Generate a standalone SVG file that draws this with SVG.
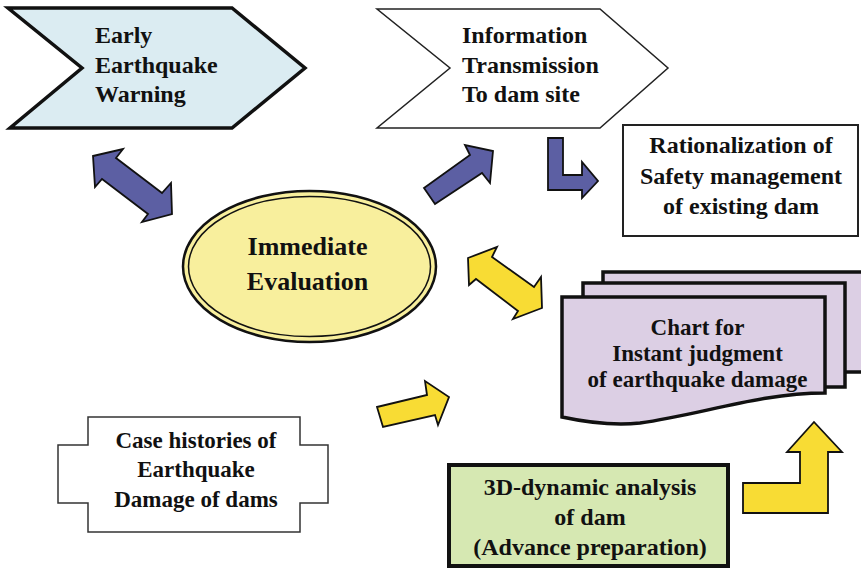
<svg xmlns="http://www.w3.org/2000/svg" width="861" height="570" viewBox="0 0 861 570">
<style>
text{font-family:"Liberation Serif","Times New Roman",serif;font-weight:bold;fill:#111;}
.l{font-size:24px;}
.c{font-size:24px;text-anchor:middle;}
.c23{font-size:23px;text-anchor:middle;}
.blue{fill:#5c5fa3;stroke:#111;stroke-width:1.8;stroke-linejoin:miter;}
.yel{fill:#f8dc34;stroke:#111;stroke-width:1.8;stroke-linejoin:miter;}
.sheet{fill:#dccfe4;stroke:#111;stroke-width:3.5;}
</style>
<rect width="861" height="570" fill="#fff"/>

<g id="early-warning">
<polygon points="8,8 232,8 305,68 232,128 10,128 82,68" fill="#dbecf2" stroke="#111" stroke-width="3.5"/>
<text class="l" x="95" y="43">Early</text>
<text class="l" x="95" y="72.5">Earthquake</text>
<text class="l" x="95" y="102">Warning</text>
</g>

<g id="info-transmission">
<polygon points="377,9 600,9 668,68 600,128 377,128 450,68" fill="#fff" stroke="#222" stroke-width="1.5"/>
<text class="l" x="462" y="43">Information</text>
<text class="l" x="462" y="72.5">Transmission</text>
<text class="l" x="462" y="102">To dam site</text>
</g>

<g id="rationalization">
<rect x="623" y="125" width="235" height="111" fill="#fff" stroke="#222" stroke-width="2"/>
<text class="c" x="741" y="153">Rationalization of</text>
<text class="c" x="741" y="184">Safety management</text>
<text class="c" x="741" y="214">of existing dam</text>
</g>

<g id="immediate-evaluation">
<ellipse cx="309.5" cy="266.5" rx="126.5" ry="75.5" fill="#f8ef9d" stroke="#111" stroke-width="2.5"/>
<ellipse cx="309.5" cy="266.5" rx="121" ry="70" fill="none" stroke="#111" stroke-width="1.5"/>
<text x="307.5" y="255" style="font-size:26px;text-anchor:middle">Immediate</text>
<text x="307.5" y="290" style="font-size:26px;text-anchor:middle">Evaluation</text>
</g>

<g id="chart">
<rect class="sheet" x="603" y="272" width="262" height="100"/>
<rect class="sheet" x="583" y="283" width="262" height="104"/>
<path class="sheet" d="M562,297 H825 V393 C760,393 700,415 640,423 C610,426 585,422 562,417 Z"/>
<text class="c23" x="697.5" y="335">Chart for</text>
<text class="c23" x="697.5" y="361">Instant judgment</text>
<text class="c23" x="697.5" y="387">of earthquake damage</text>
</g>

<g id="case-histories">
<polygon points="88,417 300,417 300,445 328,445 328,503 300,503 300,532 88,532 88,503 58,503 58,445 88,445" fill="#fff" stroke="#333" stroke-width="1.5"/>
<text class="c23" x="196" y="448">Case histories of</text>
<text class="c23" x="196" y="477">Earthquake</text>
<text class="c23" x="196" y="507">Damage of dams</text>
</g>

<g id="analysis-3d">
<rect x="449" y="465" width="279" height="101" fill="#d6e8b2" stroke="#111" stroke-width="4"/>
<text class="c" x="590" y="495">3D-dynamic analysis</text>
<text class="c" x="590" y="525">of dam</text>
<text class="c" x="590" y="555">(Advance preparation)</text>
</g>

<g id="connectors">
<polygon class="blue" points="93,156 123,149 116,158 162,193 171,183 172,214 142,222 148,214 102,179 95,187"/>
<polygon class="blue" points="424,188 470,155 465,145 493,151 490,183 482,173 435,204"/>
<polygon class="blue" points="548,138 563,138 563,175 582,175 582,162 598,181 582,198 582,190 548,190"/>
<polygon class="yel" points="468,258 497,247 492,257 534,287 541,277 542,308 513,319 518,311 476,279 469,285"/>
<polygon class="yel" points="377,407 427,395 425,381 449,397 438,425 435,415 383,427"/>
<polygon class="yel" points="743,483 800,483 800,452 787,452 814,422 842,452 828,452 828,513 743,513"/>
</g>
</svg>
